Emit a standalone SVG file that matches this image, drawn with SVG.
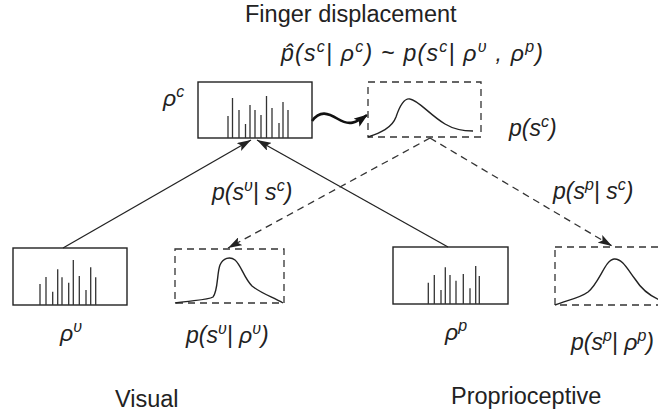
<svg xmlns="http://www.w3.org/2000/svg" width="658" height="415" viewBox="0 0 658 415">
<style>
text{font-family:"Liberation Sans",Arial,sans-serif;fill:#222;font-size:23.5px}
.m{font-style:italic;font-size:23px}
.s{font-size:16px}
.box{fill:none;stroke:#222;stroke-width:1.4}
.dbox{fill:none;stroke:#333;stroke-width:1.3;stroke-dasharray:7,5}
.bar{stroke:#333;stroke-width:1.3}
.curve{fill:none;stroke:#222;stroke-width:1.4}
.solid{fill:none;stroke:#222;stroke-width:1.3;marker-end:url(#ah)}
.dash{fill:none;stroke:#333;stroke-width:1.3;stroke-dasharray:7,5;marker-end:url(#ah)}
.thick{fill:none;stroke:#111;stroke-width:2.6;marker-end:url(#ahb)}
</style>
<defs>
<marker id="ah" viewBox="0 0 14 9" refX="14" refY="4.5" markerWidth="14" markerHeight="9" orient="auto" markerUnits="userSpaceOnUse"><path d="M0,0 L14,4.5 L0,9 L3,4.5 Z" fill="#222"/></marker>
<marker id="ahb" viewBox="0 0 14 10" refX="13" refY="5" markerWidth="14" markerHeight="10" orient="auto" markerUnits="userSpaceOnUse"><path d="M0,0 L14,5 L0,10 L3,5 Z" fill="#111"/></marker>
</defs>
<rect width="658" height="415" fill="#fff"/>

<g id="titles">
<text x="245" y="22">Finger displacement</text>
<text class="m" x="281" y="61" textLength="262">p̂(s<tspan class="s" dy="-9">c</tspan><tspan dy="9">| ρ</tspan><tspan class="s" dy="-9">c</tspan><tspan dy="9">) ~ p(s</tspan><tspan class="s" dy="-9">c</tspan><tspan dy="9">| ρ</tspan><tspan class="s" dy="-9">υ</tspan><tspan dy="9"> , ρ</tspan><tspan class="s" dy="-9">p</tspan><tspan dy="9">)</tspan></text>
<text x="115" y="407">Visual</text>
<text x="451" y="404">Proprioceptive</text>
</g>

<g id="connectors">
<path class="solid" d="M63,248 L251,140"/>
<path class="solid" d="M448,247 L257,140"/>
<path class="dash" d="M430,138 L228,248"/>
<path class="dash" d="M430,138 L612,246"/>
<path class="thick" d="M312,121 C320,110 328,113 338,119 C349,126 356,123 367,115"/>
<text class="m" x="212" y="200">p(s<tspan class="s" dy="-9">υ</tspan><tspan dy="9">| s</tspan><tspan class="s" dy="-9">c</tspan><tspan dy="9">)</tspan></text>
<text class="m" x="553" y="199">p(s<tspan class="s" dy="-9">p</tspan><tspan dy="9">| s</tspan><tspan class="s" dy="-9">c</tspan><tspan dy="9">)</tspan></text>
</g>

<g id="central">
<rect class="box" x="198" y="82" width="114" height="56"/>
<g class="bar">
<line x1="228" y1="138" x2="228" y2="116"/>
<line x1="232.5" y1="138" x2="232.5" y2="98"/>
<line x1="239" y1="138" x2="239" y2="110"/>
<line x1="245.5" y1="138" x2="245.5" y2="124"/>
<line x1="250" y1="138" x2="250" y2="105"/>
<line x1="255" y1="138" x2="255" y2="110"/>
<line x1="261" y1="138" x2="261" y2="115"/>
<line x1="266.5" y1="138" x2="266.5" y2="96"/>
<line x1="272" y1="138" x2="272" y2="108"/>
<line x1="279" y1="138" x2="279" y2="123"/>
<line x1="283" y1="138" x2="283" y2="102"/>
<line x1="288" y1="138" x2="288" y2="110"/>
</g>
<text class="m" x="163" y="106">ρ<tspan class="s" dy="-9">c</tspan></text>
</g>

<g id="central-dist">
<rect class="dbox" x="368" y="82" width="113" height="55"/>
<path class="curve" d="M368,137 C380,133 392,128 396,117 C400,105 405,98 410,99 C418,100 430,115 445,124 C455,130 463,131 473,131"/>
<text class="m" x="509" y="136">p(s<tspan class="s" dy="-9">c</tspan><tspan dy="9">)</tspan></text>
</g>

<g id="visual">
<rect class="box" x="13" y="248" width="114" height="57"/>
<g class="bar">
<line x1="40" y1="305" x2="40" y2="284"/>
<line x1="46" y1="305" x2="46" y2="277"/>
<line x1="52.7" y1="305" x2="52.7" y2="291.7"/>
<line x1="57.7" y1="305" x2="57.7" y2="269.3"/>
<line x1="62" y1="305" x2="62" y2="277.3"/>
<line x1="68.7" y1="305" x2="68.7" y2="282.7"/>
<line x1="73.3" y1="305" x2="73.3" y2="260"/>
<line x1="79.3" y1="305" x2="79.3" y2="276"/>
<line x1="86" y1="305" x2="86" y2="290"/>
<line x1="90.7" y1="305" x2="90.7" y2="267.3"/>
<line x1="95.7" y1="305" x2="95.7" y2="277.3"/>
</g>
<text class="m" x="60" y="341">ρ<tspan class="s" dy="-9">υ</tspan></text>
</g>

<g id="visual-dist">
<rect class="dbox" x="175" y="249" width="109" height="54"/>
<path class="curve" d="M175,303 C195,300 208,300 213,297 C218,292 217,272 220,265 C223,258 230,256 235,260 C241,265 244,278 252,286 C262,294 273,297 283,303"/>
<text class="m" x="186" y="343">p(s<tspan class="s" dy="-9">υ</tspan><tspan dy="9">| ρ</tspan><tspan class="s" dy="-9">υ</tspan><tspan dy="9">)</tspan></text>
</g>

<g id="proprioceptive">
<rect class="box" x="393" y="247" width="115" height="57"/>
<g class="bar">
<line x1="428.3" y1="304" x2="428.3" y2="282.7"/>
<line x1="434.3" y1="304" x2="434.3" y2="275"/>
<line x1="441" y1="304" x2="441" y2="290"/>
<line x1="445.3" y1="304" x2="445.3" y2="267.3"/>
<line x1="450" y1="304" x2="450" y2="275"/>
<line x1="456" y1="304" x2="456" y2="280.7"/>
<line x1="463.3" y1="304" x2="463.3" y2="274"/>
<line x1="470" y1="304" x2="470" y2="288.3"/>
<line x1="475.7" y1="304" x2="475.7" y2="266"/>
<line x1="479.3" y1="304" x2="479.3" y2="276"/>
</g>
<text class="m" x="445" y="340">ρ<tspan class="s" dy="-9">p</tspan></text>
</g>

<g id="proprioceptive-dist">
<rect class="dbox" x="555" y="247" width="115" height="58"/>
<path class="curve" d="M555,305 C568,300 580,298 588,292 C600,282 605,260 614,259 C622,258 628,270 635,279 C642,290 650,296 660,300"/>
<text class="m" x="571" y="350">p(s<tspan class="s" dy="-9">p</tspan><tspan dy="9">| ρ</tspan><tspan class="s" dy="-9">p</tspan><tspan dy="9">)</tspan></text>
</g>
</svg>
